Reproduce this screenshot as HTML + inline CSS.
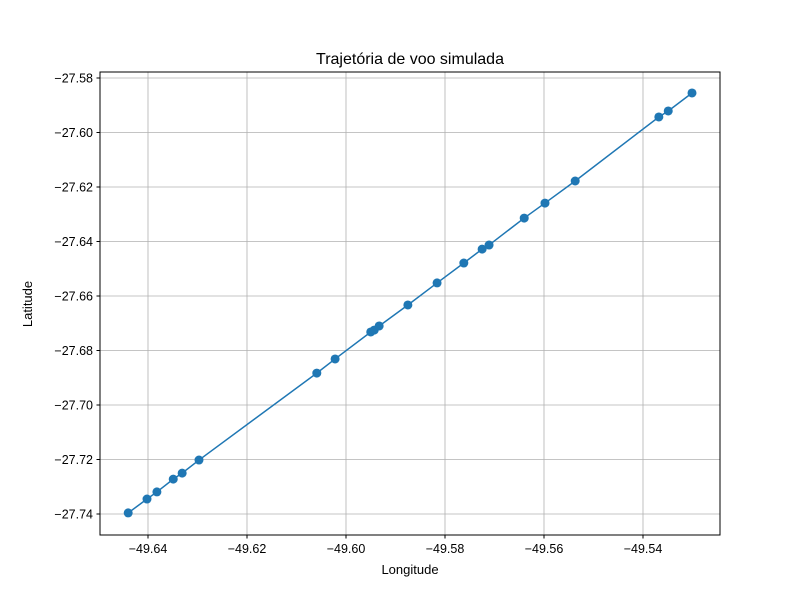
<!DOCTYPE html>
<html><head><meta charset="utf-8"><style>
body{margin:0;background:#fff;font-family:"Liberation Sans","DejaVu Sans",sans-serif}
</style></head><body>
<svg id="chart" width="800" height="600" xmlns="http://www.w3.org/2000/svg">
<rect width="800" height="600" fill="#fff"/>
<g id="grid"></g>
<g id="series"></g>
<rect x="100" y="72" width="620" height="463" fill="none" stroke="#000" stroke-width="1"/>
<g id="ticks" font-size="12.5" fill="#000"></g>
<text x="410" y="64" text-anchor="middle" font-size="16">Trajetória de voo simulada</text>
<text x="410" y="574" text-anchor="middle" font-size="13">Longitude</text>
<text x="32" y="304" text-anchor="middle" font-size="13" transform="rotate(-90 32 304)">Latitude</text>
</svg>
<script>
const lons=[-49.6440,-49.6402,-49.6382,-49.6349,-49.6331,-49.6297,-49.6059,-49.6022,-49.5950,-49.5943,-49.5933,-49.5875,-49.5816,-49.5762,-49.5725,-49.5711,-49.5640,-49.5598,-49.5537,-49.5368,-49.5349,-49.5301];
const lats=[-27.7396,-27.7345,-27.7319,-27.7272,-27.7250,-27.7202,-27.6883,-27.6831,-27.6732,-27.6725,-27.6710,-27.6633,-27.6552,-27.6479,-27.6428,-27.6413,-27.6314,-27.6259,-27.6178,-27.5943,-27.5921,-27.5855];
const xTicks=[-49.64,-49.62,-49.60,-49.58,-49.56,-49.54];
const yTicks=[-27.58,-27.60,-27.62,-27.64,-27.66,-27.68,-27.70,-27.72,-27.74];
const NS="http://www.w3.org/2000/svg";
function xs(v){return 148+(v+49.64)*4950;}
function ys(v){return 78+(-27.58-v)*2725;}
function mk(t,a,p){const e=document.createElementNS(NS,t);for(const k in a)e.setAttribute(k,a[k]);p.appendChild(e);return e;}
const grid=document.getElementById('grid'),ticks=document.getElementById('ticks'),ser=document.getElementById('series');
const fmt=v=>v.toFixed(2).replace('-','\u2212');
xTicks.forEach(v=>{const x=xs(v);
 const g=mk('line',{x1:x,x2:x,y1:72,y2:535,stroke:'#b0b0b0','stroke-width':0.8},grid);
 
 
 mk('line',{x1:x,x2:x,y1:535,y2:538.5,stroke:'#000'},ticks);
 const t=mk('text',{x:x,y:553,'text-anchor':'middle'},ticks);t.textContent=fmt(v);
 
 
});
yTicks.forEach(v=>{const y=ys(v);
 const g=mk('line',{x1:100,x2:720,y1:y,y2:y,stroke:'#b0b0b0','stroke-width':0.8},grid);
 
 
 mk('line',{x1:96.5,x2:100,y1:y,y2:y,stroke:'#000'},ticks);
 const t=mk('text',{x:93,y:y+4.5,'text-anchor':'end'},ticks);t.textContent=fmt(v);
 
 
});
const pts=lons.map((v,i)=>xs(v)+','+ys(lats[i])).join(' ');
const pl=mk('polyline',{points:pts,fill:'none',stroke:'#1f77b4','stroke-width':1.5},ser);


lons.forEach((v,i)=>{const c=mk('circle',{cx:xs(v),cy:ys(lats[i]),r:4.5,fill:'#1f77b4'},ser);
 
 
});
</script>
</body></html>
